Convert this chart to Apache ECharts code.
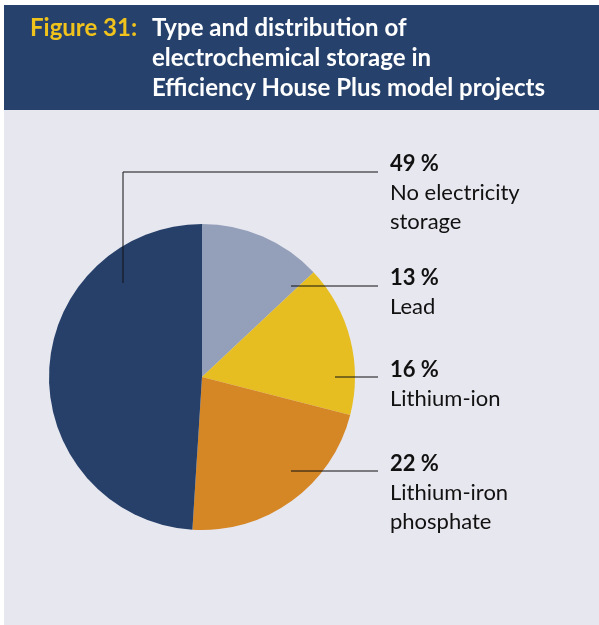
<!DOCTYPE html>
<html><head><meta charset="utf-8">
<script src="https://cdn.jsdelivr.net/npm/echarts@6/dist/echarts.min.js"></script>
<style>html,body{margin:0;padding:0;background:#fff}#c{width:599px;height:625px}</style>
</head><body><div id="c"></div>
<script>
const categories = ['Lead', 'Lithium-ion', 'Lithium-iron\nphosphate', 'No electricity\nstorage'];
const values = [13, 16, 22, 49];
const colors = ['#949fba', '#e6be21', '#d58625', '#26406a'];
const figNo = 'Figure 31:';
const titleText = 'Type and distribution of\nelectrochemical storage in\nEfficiency House Plus model projects';

// label layout: [label x, label top y, leader line points]
const labelPos = [
  {x: 390, y: 263, pts: [[291, 286], [378, 286]]},
  {x: 390, y: 355, pts: [[335, 377], [378, 377]]},
  {x: 390, y: 449, pts: [[291, 471], [378, 471]]},
  {x: 390, y: 149, pts: [[123, 283], [123, 172], [378, 172]]}
];

const FONT = 'Lato';
const chart = echarts.init(document.getElementById('c'), null, {renderer: 'canvas'});
chart.setOption({
  backgroundColor: '#ffffff',
  animation: false,
  graphic: [
    {type: 'rect', shape: {x: 4, y: 5, width: 595, height: 105}, style: {fill: '#26416b'}, z: -10},
    {type: 'rect', shape: {x: 4, y: 110, width: 595, height: 515}, style: {fill: '#e7e7ef'}, z: -10}
  ].concat(labelPos.map(L => ({
    type: 'polyline', shape: {points: L.pts}, style: {stroke: '#111', lineWidth: 1, fill: null}, z: 10
  }))),
  title: [
    {text: figNo, left: 25, top: 8, textStyle: {color: '#f0c31c', fontFamily: FONT, fontWeight: 'bold', fontSize: 24, lineHeight: 30}},
    {text: titleText, left: 147, top: 8, textStyle: {color: '#ffffff', fontFamily: FONT, fontWeight: 'bold', fontSize: 24, lineHeight: 30}}
  ],
  series: [{
    type: 'pie',
    center: [202, 377],
    radius: 153,
    startAngle: 90,
    clockwise: true,
    silent: true,
    itemStyle: {borderWidth: 0},
    data: categories.map((c, i) => ({name: c, value: values[i], itemStyle: {color: colors[i]}})),
    label: {
      show: true,
      position: 'outer',
      alignTo: 'none',
      overflow: 'none',
      formatter: p => '{b|' + p.value + ' %}\n{n|' + p.name.split('\n').join('}\n{n|') + '}',
      align: 'left',
      rich: {
        b: {fontFamily: FONT, fontWeight: 'bold', fontSize: 22, color: '#111', lineHeight: 29},
        n: {fontFamily: FONT, fontSize: 22, color: '#111', lineHeight: 29}
      }
    },
    labelLine: {show: false},
    labelLayout: function (params) {
      const L = labelPos[params.dataIndex];
      return {x: L.x, y: L.y, align: 'left', verticalAlign: 'top'};
    }
  }]
});
</script></body></html>
